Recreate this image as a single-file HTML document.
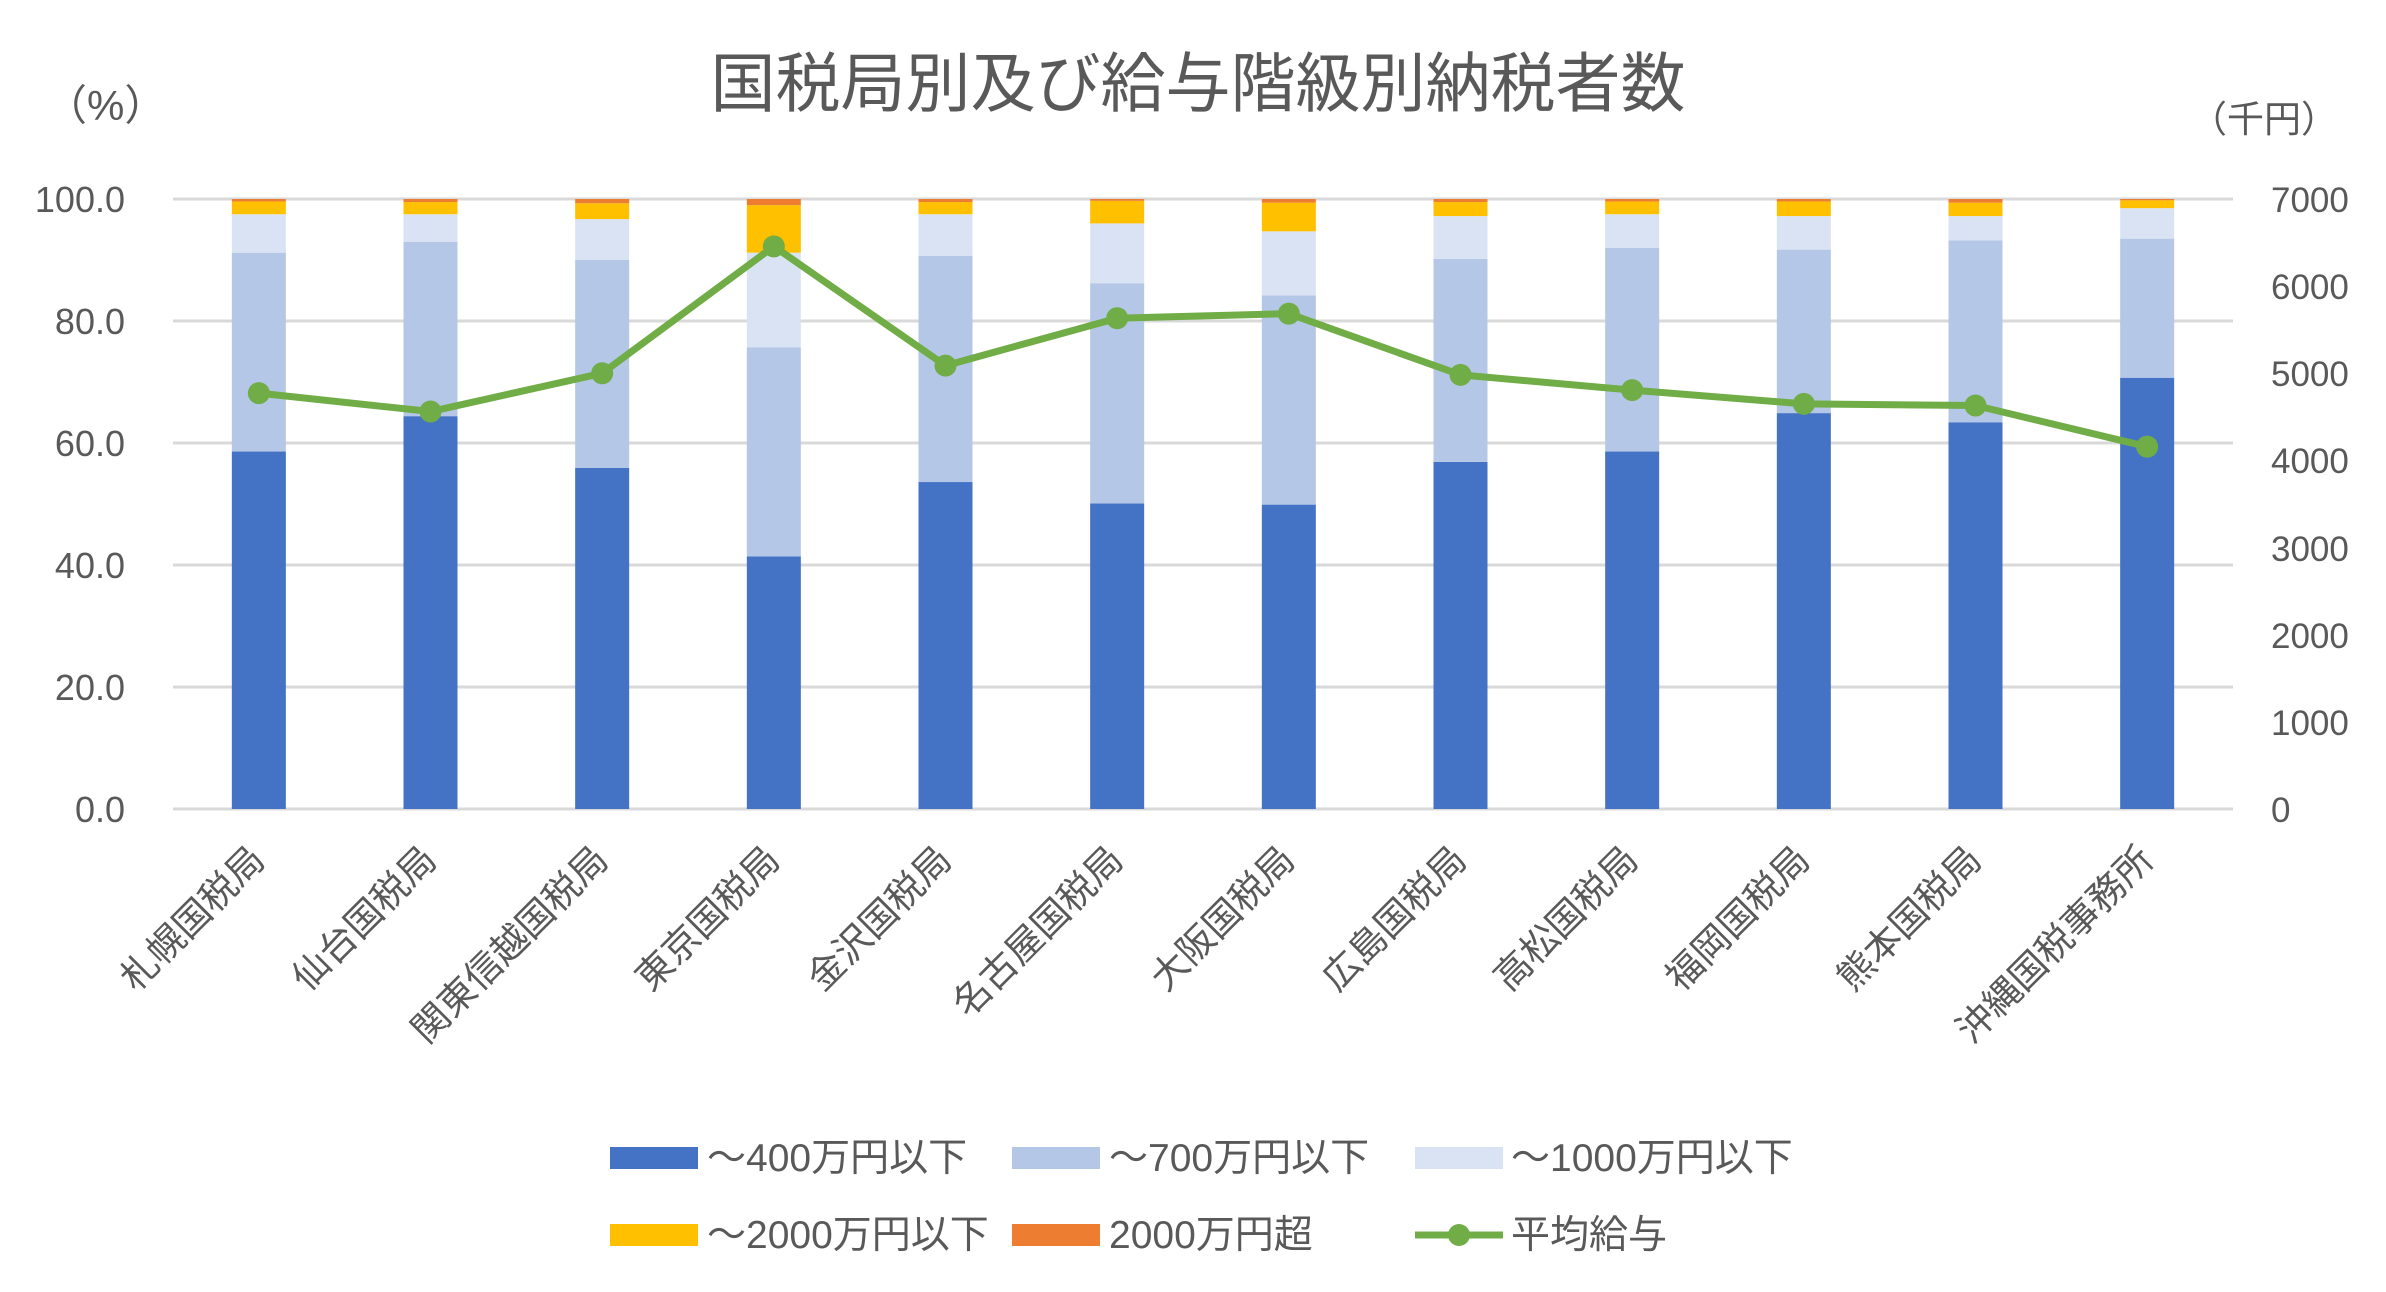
<!DOCTYPE html>
<html><head><meta charset="utf-8"><style>
html,body{margin:0;padding:0;background:#fff;}
svg{display:block;}
text{font-family:"Liberation Sans","Noto Sans CJK JP",sans-serif;fill:#595959;}
</style></head><body>
<svg width="2386" height="1292" viewBox="0 0 2386 1292" xmlns="http://www.w3.org/2000/svg">
<rect width="2386" height="1292" fill="#fff"/>
<text x="1198" y="106" font-size="65" text-anchor="middle">国税局別及び給与階級別納税者数</text>
<text x="45" y="120" font-size="42">（%）</text>
<text x="2190" y="132" font-size="37">（千円）</text>
<g id="grid" stroke="#d9d9d9" stroke-width="3">
<line x1="173" x2="2233" y1="199" y2="199"/>
<line x1="173" x2="2233" y1="321" y2="321"/>
<line x1="173" x2="2233" y1="443" y2="443"/>
<line x1="173" x2="2233" y1="565" y2="565"/>
<line x1="173" x2="2233" y1="687" y2="687"/>
<line x1="173" x2="2233" y1="809" y2="809"/>
</g>
<g font-size="36" text-anchor="end">
<text x="125" y="212">100.0</text>
<text x="125" y="334">80.0</text>
<text x="125" y="456">60.0</text>
<text x="125" y="578">40.0</text>
<text x="125" y="700">20.0</text>
<text x="125" y="822">0.0</text>
</g>
<g font-size="35">
<text x="2271" y="212">7000</text>
<text x="2271" y="299">6000</text>
<text x="2271" y="386">5000</text>
<text x="2271" y="473">4000</text>
<text x="2271" y="561">3000</text>
<text x="2271" y="648">2000</text>
<text x="2271" y="735">1000</text>
<text x="2271" y="822">0</text>
</g>
<g id="bars"></g>
<g id="line"></g>
<g id="xl" font-size="37"></g>
<g font-size="39">
<rect x="610" y="1147" width="88" height="22" fill="#4472c4"/><text x="707" y="1171">～400万円以下</text>
<rect x="1012" y="1147" width="88" height="22" fill="#b4c7e7"/><text x="1109" y="1171">～700万円以下</text>
<rect x="1415" y="1147" width="88" height="22" fill="#dae3f3"/><text x="1511" y="1171">～1000万円以下</text>
<rect x="610" y="1224" width="88" height="22" fill="#ffc000"/><text x="707" y="1248">～2000万円以下</text>
<rect x="1012" y="1224" width="88" height="22" fill="#ed7d31"/><text x="1109" y="1248">2000万円超</text>
<line x1="1415" x2="1503" y1="1235" y2="1235" stroke="#70ad47" stroke-width="7"/><circle cx="1459" cy="1235" r="11" fill="#70ad47"/><text x="1511" y="1248">平均給与</text>
</g>
</svg>
<script>
const names=["札幌国税局","仙台国税局","関東信越国税局","東京国税局","金沢国税局","名古屋国税局","大阪国税局","広島国税局","高松国税局","福岡国税局","熊本国税局","沖縄国税事務所"];
const d=[[58.6,91.2,97.5,99.6,4772],[64.4,93.0,97.5,99.5,4561],[55.9,90.0,96.7,99.3,5000],[41.4,75.7,91.2,99.0,6456],[53.6,90.7,97.5,99.5,5088],[50.1,86.2,96.0,99.7,5632],[49.9,84.2,94.7,99.4,5684],[56.9,90.2,97.2,99.5,4982],[58.6,92.0,97.5,99.6,4807],[64.9,91.7,97.2,99.6,4649],[63.4,93.2,97.2,99.4,4630],[70.7,93.5,98.5,99.8,4158]];
const cols=["#4472c4","#b4c7e7","#dae3f3","#ffc000","#ed7d31"];
const L=173,W=2060,y0=809,H=610,cw=W/12,bw=54;
const Y=p=>y0-p/100*H;
let b="",pts=[],xl="";
d.forEach((r,i)=>{const cx=L+cw*(i+0.5);const c=[0,r[0],r[1],r[2],r[3],100];
for(let k=0;k<5;k++){b+=`<rect x="${cx-bw/2}" y="${Y(c[k+1])}" width="${bw}" height="${Y(c[k])-Y(c[k+1])}" fill="${cols[k]}"/>`;}
pts.push([cx,y0-r[4]/7000*H]);
xl+=`<text transform="translate(${cx+8},862) rotate(-45)" text-anchor="end">${names[i]}</text>`;});
document.getElementById("bars").innerHTML=b;
let l=`<polyline fill="none" stroke="#70ad47" stroke-width="7" stroke-linejoin="round" points="${pts.map(p=>p.join(",")).join(" ")}"/>`;
pts.forEach(p=>l+=`<circle cx="${p[0]}" cy="${p[1]}" r="11" fill="#70ad47"/>`);
document.getElementById("line").innerHTML=l;
document.getElementById("xl").innerHTML=xl;
</script>
</body></html>
